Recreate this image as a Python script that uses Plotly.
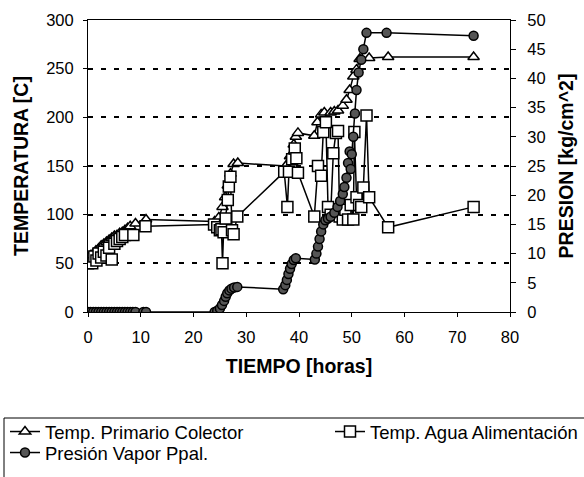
import plotly.graph_objects as go

# ---- data ----
t_colector = [0, 0.5, 1, 1.5, 2, 2.5, 3, 3.5, 4, 4.5, 5, 5.5, 6, 6.5, 7, 7.5, 8, 9, 11,
              24, 24.8, 25.5, 26, 26.5, 27, 27.6, 28.4,
              37.5, 38.3, 39, 39.4, 39.8, 42.9, 43.5, 44.2, 44.8, 46, 46.7, 47.4, 48.3,
              49, 49.6, 50.3, 50.9, 51.5, 53.3, 56.9, 73.1]
temp_colector = [55, 58, 60, 63, 65, 68, 70, 72, 74, 76, 78, 79, 81, 82, 84, 86, 88, 91, 95,
                 93, 97, 108, 118, 130, 142, 152, 153,
                 150, 160, 172, 180, 184, 181, 195, 203, 205, 205, 206, 207, 212,
                 218, 228, 242, 249, 260, 261, 262, 262]

t_agua = [0, 0.4, 0.8, 1.2, 1.6, 2, 2.5, 3, 3.5, 4, 4.5, 5, 5.5, 6, 6.5, 7, 8.6, 10.9,
          23.9, 24.5, 25, 25.3, 25.5, 25.7, 26.1, 26.5, 26.7, 27, 27.3, 27.6, 28.3,
          37.2, 37.8, 38.1, 38.7, 39.2, 39.5, 39.8, 42.9, 43.6, 44.2, 44.6, 45.1, 45.5,
          46, 46.5, 47, 47.4, 47.7, 48.3, 48.8, 49.3, 49.8, 50.3, 50.5, 50.9, 51.4,
          51.8, 52.2, 52.8, 53.3, 56.9, 73.1]
temp_agua = [50, 55, 50, 57, 53, 60, 56, 62, 58, 66, 54, 70, 73, 75, 77, 79, 79, 88,
             90, 87, 84, 85, 50, 82, 96, 115, 129, 139, 84, 80, 98,
             144, 108, 144, 157, 168, 158, 143, 98, 150, 140, 185, 195, 108,
             100, 163, 184, 186, 98, 95, 105, 95, 110, 95, 185, 118, 110,
             108, 128, 202, 118, 87, 108]

t_presion = [0, 0.5, 1, 1.5, 2, 2.5, 3, 3.5, 4, 4.5, 5, 5.5, 6, 6.5, 7, 7.5, 8, 8.5, 9, 10.5, 11,
             24, 24.5, 25, 25.4, 25.8, 26.1, 26.4, 26.8, 27.2, 27.7, 28.3,
             37, 37.4, 37.7, 38, 38.3, 38.6, 39, 39.4, 43, 43.3, 43.6, 43.9, 44.2, 44.6,
             45, 45.5, 46, 46.7, 47.3, 47.8, 48.3, 48.6, 49, 49.3, 49.6, 49.8, 50, 50.3,
             50.6, 50.9, 51.3, 51.8, 52.2, 52.8, 56.6, 73.1]
presion = [0, 0, 0, 0, 0, 0, 0, 0, 0, 0, 0, 0, 0, 0, 0, 0, 0, 0, 0, 0, 0,
           0, 0.2, 0.6, 1.2, 1.9, 2.6, 3.2, 3.7, 4.0, 4.2, 4.3,
           3.9, 4.6, 5.5, 6.5, 7.4, 8.2, 8.9, 9.2, 9.0, 10, 11.2, 12.5, 13.8, 15,
           15.7, 16, 16.3, 17, 18, 19, 20.2, 21.4, 23, 25.5, 27.5, 24.5, 27, 30,
           34, 38, 41, 43.2, 45, 47.8, 47.8, 47.3]

names = ["Temp. Primario Colector", "Temp. Agua Alimentación", "Presión Vapor Ppal."]

FONT = "Liberation Sans, Arial, sans-serif"
fig = go.Figure()

fig.add_trace(go.Scatter(
    x=t_colector, y=temp_colector, name=names[0], mode="lines+markers",
    line=dict(color="black", width=1.5), showlegend=True,
    marker=dict(symbol="triangle-up", size=10, color="white", line=dict(color="black", width=1.5)),
    legend="legend"))
fig.add_trace(go.Scatter(
    x=t_agua, y=temp_agua, name=names[1], mode="lines+markers",
    line=dict(color="black", width=1.5), showlegend=True,
    marker=dict(symbol="square", size=11, color="white", line=dict(color="black", width=1.5)),
    legend="legend2"))
fig.add_trace(go.Scatter(
    x=t_presion, y=presion, name=names[2], mode="lines+markers", yaxis="y2",
    line=dict(color="black", width=1.5), showlegend=True,
    marker=dict(symbol="circle", size=9, color="#555555", line=dict(color="black", width=1.5)),
    legend="legend3"))

L, R, T, B = 88, 74, 20, 165
W, H = 584, 477
pw, ph = W - L - R, H - T - B

def px_x(p):
    return (p - L) / pw

def px_y(p):
    return (H - B - p) / ph

leg_common = dict(orientation="h", xanchor="left", yanchor="middle",
                  font=dict(family=FONT, size=18.5, color="black"),
                  bgcolor="rgba(0,0,0,0)", borderwidth=0, itemwidth=30, visible=True)

fig.update_layout(
    width=W, height=H, showlegend=True,
    margin=dict(l=L, r=R, t=T, b=B, autoexpand=False),
    paper_bgcolor="white", plot_bgcolor="white",
    font=dict(family=FONT, color="black"),
    xaxis=dict(range=[0, 80], dtick=10, showgrid=False, zeroline=False, automargin=False,
               showline=True, linecolor="black", linewidth=1, mirror=True,
               ticks="outside", ticklen=4, tickcolor="black",
               tickfont=dict(size=16.5), ticklabelstandoff=6,
               title=dict(text="<b>TIEMPO [horas]</b>", font=dict(size=19.5), standoff=14)),
    yaxis=dict(range=[0, 300], dtick=50, showgrid=True, gridcolor="black", gridwidth=2,
               griddash="5px,8px", zeroline=False, automargin=False,
               showline=True, linecolor="black", linewidth=1,
               ticks="outside", ticklen=4, tickcolor="black",
               tickfont=dict(size=16.5), ticklabelstandoff=6,
               title=dict(text="<b>TEMPERATURA [C]</b>", font=dict(size=19.5), standoff=12)),
    yaxis2=dict(range=[0, 50], dtick=5, overlaying="y", side="right", showgrid=False,
                zeroline=False, showline=True, linecolor="black", linewidth=1, automargin=False,
                ticks="outside", ticklen=5, tickcolor="black",
                tickfont=dict(size=16.5), ticklabelstandoff=8,
                title=dict(text="<b>PRESION [kg/cm^2]</b>", font=dict(size=19.5), standoff=14)),
    legend=dict(x=px_x(5), y=px_y(432), **leg_common),
    legend2=dict(x=px_x(330), y=px_y(432), **leg_common),
    legend3=dict(x=px_x(5), y=px_y(453), **leg_common),
    shapes=[dict(type="rect", xref="paper", yref="paper",
                 x0=px_x(4), x1=px_x(700), y0=px_y(418), y1=px_y(560),
                 line=dict(color="black", width=1), fillcolor="rgba(0,0,0,0)", layer="below")],
)

fig.write_html("out.html", config={"displayModeBar": False},
               post_script="document.body.style.margin='0';document.body.style.overflow='hidden';")
